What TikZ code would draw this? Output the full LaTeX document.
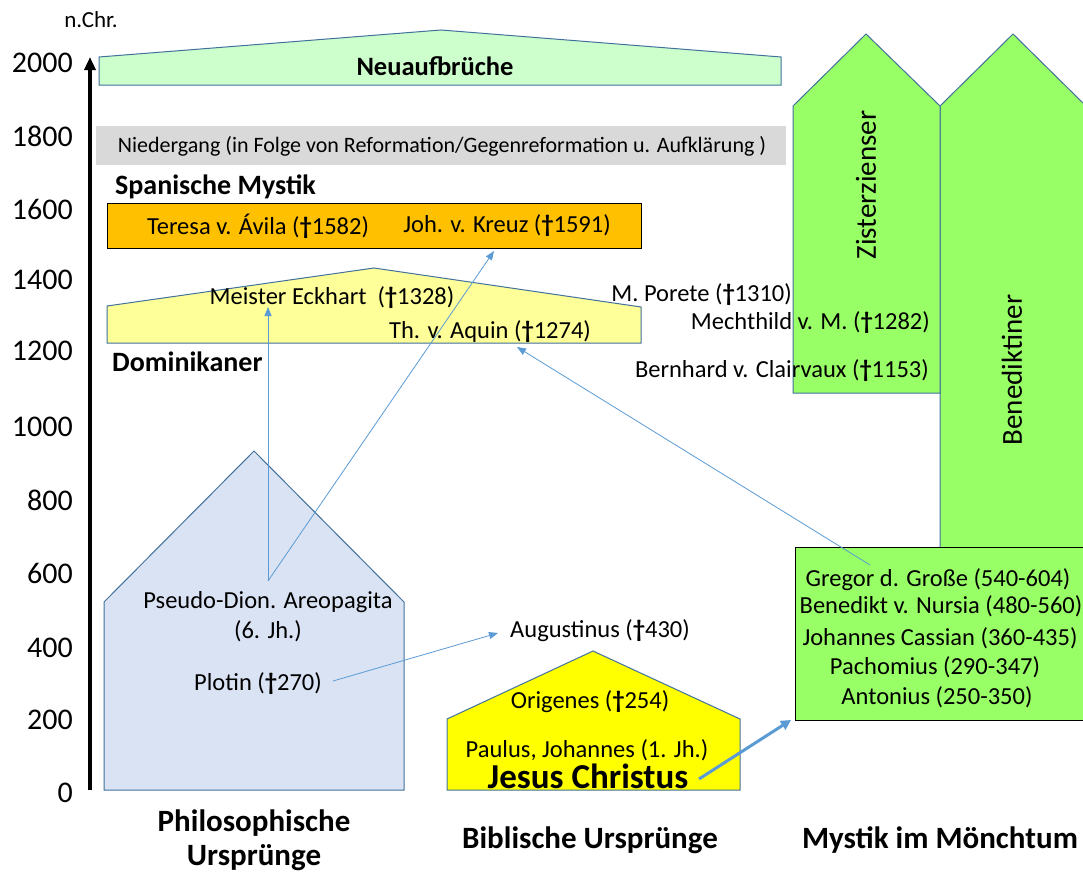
\documentclass[tikz,border=0pt]{standalone}
\usepackage{fontspec}
\setmainfont{Carlito}
\usetikzlibrary{arrows.meta}
\definecolor{edgeblue}{HTML}{41719C}
\definecolor{arrblue}{HTML}{5B9BD5}
\definecolor{lgreen}{HTML}{CCFFCC}
\definecolor{greybar}{HTML}{D9D9D9}
\definecolor{orangebox}{HTML}{FFC000}
\definecolor{lyellow}{HTML}{FFFF99}
\definecolor{mgreen}{HTML}{99FF66}
\definecolor{lblue}{HTML}{DAE3F3}
\definecolor{yel}{HTML}{FFFF00}
\newcommand{\fs}[1]{\fontsize{#1}{#1}\selectfont}
\newcommand{\dg}{{\bfseries †}}
\begin{document}
\begin{tikzpicture}[x=1pt,y=-1pt,
  shapeline/.style={draw=edgeblue, line width=1pt},
  lbl/.style={inner sep=0pt, font=\fs{24.5}},
  yr/.style={inner sep=0pt, font=\fs{30}},
  head/.style={inner sep=0pt, font=\fs{28}\bfseries},
  foot/.style={inner sep=0pt, font=\fs{31}\bfseries},
  link/.style={draw=arrblue, line width=0.8pt, -{Triangle[length=9pt,width=7pt]}},
  bigarr/.style={draw=arrblue, line width=3pt, -{Triangle[length=10pt,width=10pt]}}]
\useasboundingbox (0,0) rectangle (1083,875);
\fill[white] (0,0) rectangle (1083,875);

% Benediktiner and Zisterzienser
\begin{scope}
\clip (0,0) rectangle (1083,875);
\draw[shapeline, fill=mgreen] (940,106) -- (1013,34) -- (1086,106) -- (1086,548) -- (940,548) -- cycle;
\end{scope}
\draw[shapeline, fill=mgreen] (793,106) -- (866,34) -- (940,106) -- (940,393) -- (793,393) -- cycle;
\node[rotate=90, font=\fs{29}, inner sep=0pt] (zis) at (866,185) {Zisterzienser};
\node[rotate=90, font=\fs{29}, inner sep=0pt] (ben) at (1012,370) {Benediktiner};

% axis
\node[inner sep=0pt, font=\fs{23}] (nchr) at (91,20) {n.Chr.};
\coordinate (axbot) at (90,790);
\coordinate (axtop) at (90,57);
\draw[line width=3.5pt, -{Triangle[length=13pt,width=11pt]}] (axbot) -- (axtop);
\foreach \v/\yy in {2000/63,1800/136,1600/209,1400/280,1200/351,1000/427,800/500,600/573,400/648,200/720}
  \node[yr, anchor=east] at (73,\yy) {\v};
\node[yr, anchor=east] (y0) at (73,793) {0};

% Neuaufbrueche
\draw[shapeline, fill=lgreen] (99,57) -- (441,30) -- (781,57) -- (781,85) -- (99,85) -- cycle;
\node[inner sep=0pt, font=\fs{26.5}\bfseries] (neu) at (435,66) {Neuaufbrüche};

% Niedergang
\fill[greybar] (96,126) rectangle (786,165);
\node[inner sep=0pt, font=\fs{22}] (nied) at (442,146) {Niedergang (in Folge von Reformation/Gegenreformation u. Aufklärung )};

% Spanische Mystik
\node[head, anchor=west] (span) at (115,187) {Spanische Mystik};
\draw[black, line width=1pt, fill=orangebox] (107,203) rectangle (641,248);
\node[lbl] (teresa) at (258,226) {Teresa v. Ávila (\dg1582)};
\node[lbl] (johk) at (507,226) {Joh. v. Kreuz (\dg1591)};

% Dominikaner
\draw[shapeline, fill=lyellow] (107,306) -- (374,268) -- (641,307) -- (641,343) -- (107,343) -- cycle;
\node[lbl] (eck) at (332,298) {Meister Eckhart\ \ (\dg1328)};
\node[lbl] (aquin) at (490,332) {Th. v. Aquin (\dg1274)};
\node[head, anchor=west] (dom) at (112,362) {Dominikaner};

% right names
\node[lbl, anchor=east] (porete) at (792,295) {M. Porete (\dg1310)};
\node[lbl, anchor=east] (mech) at (930,323) {Mechthild v. M. (\dg1282)};
\node[lbl, anchor=east] (bern) at (929,371) {Bernhard v. Clairvaux (\dg1153)};

% monks box
\draw[black, line width=1pt, fill=mgreen] (795,547) rectangle (1090,720);
\node[lbl] (greg) at (938,580) {Gregor d. Große (540-604)};
\node[lbl] (bene) at (941,606) {Benedikt v. Nursia (480-560)};
\node[lbl] (cass) at (940,638) {Johannes Cassian (360-435)};
\node[lbl] (pach) at (935,667) {Pachomius (290-347)};
\node[lbl] (anto) at (937,697) {Antonius (250-350)};
\coordinate (monkcorner) at (791,720);

% Philosophical house
\draw[shapeline, fill=lblue] (104,602) -- (254,451) -- (404,602) -- (404,790) -- (104,790) -- cycle;
\node[lbl] (pseudo) at (268,602) {Pseudo-Dion. Areopagita};
\node[lbl] (jh6) at (268,631) {(6. Jh.)};
\node[lbl] (plotin) at (258,684) {Plotin (\dg270)};

% Biblical house
\draw[shapeline, fill=yel] (447,719) -- (593,651) -- (740,719) -- (740,790) -- (447,790) -- cycle;
\node[lbl] (orig) at (590,702) {Origenes (\dg254)};
\node[lbl] (paul) at (587,750) {Paulus, Johannes\ (1. Jh.)};
\node[inner sep=0pt, font=\fs{35}\bfseries] (jesus) at (588,776) {Jesus Christus};
\node[lbl] (aug) at (600,631) {Augustinus (\dg430)};

% connectors
\coordinate (pdsrc) at (268,581);
\coordinate (ecktip) at (268,307);
\coordinate (johtip) at (494,251);
\coordinate (plsrc) at (333,681);
\coordinate (augtip) at (498,633);
\coordinate (grsrc) at (870,565);
\coordinate (aqtip) at (517,347);
\coordinate (jcsrc) at (699,779);
\draw[link] (pdsrc) -- (ecktip);
\draw[link] (pdsrc) -- (johtip);
\draw[link] (plsrc) -- (augtip);
\draw[link] (grsrc) -- (aqtip);
\draw[bigarr] (jcsrc) -- (monkcorner);

% footer
\node[foot] (phil1) at (254,823) {Philosophische};
\node[foot] (phil2) at (254,858) {Ursprünge};
\node[foot] (bib) at (590,840) {Biblische Ursprünge};
\node[foot] (myst) at (940,840) {Mystik im Mönchtum};
\end{tikzpicture}
\end{document}
